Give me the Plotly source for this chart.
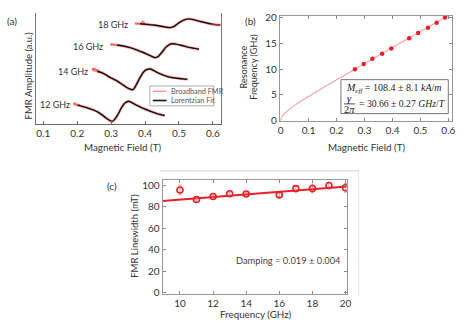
import plotly.graph_objects as go

W, H = 474, 329
FONT = "Lato"
TXT = "#333333"
RED = "#e8202a"

# ---------------- Panel (a): FMR spectra (arbitrary vertical offsets) ----------------
a_labels = ["12 GHz", "14 GHz", "16 GHz", "18 GHz"]
a_label_x = [0.135, 0.187, 0.232, 0.306]
a_label_y = [20.0, 54.0, 80.5, 102.5]

a12_x = [0.189, 0.201, 0.220, 0.240, 0.259, 0.273, 0.288, 0.303, 0.312, 0.322,
         0.332, 0.341, 0.351, 0.361, 0.375, 0.395, 0.414, 0.433, 0.458]
a12_y = [21.3, 19.7, 18.0, 15.7, 13.0, 9.7, 5.7, 3.0, 5.7, 11.3,
         18.0, 22.0, 23.7, 22.3, 19.7, 16.3, 13.7, 11.3, 9.0]

a14_x = [0.244, 0.259, 0.278, 0.298, 0.317, 0.336, 0.351, 0.364, 0.375, 0.385,
         0.395, 0.404, 0.416, 0.429, 0.443, 0.462, 0.482, 0.506, 0.525]
a14_y = [56.3, 54.7, 52.3, 48.0, 44.7, 40.3, 37.0, 35.7, 41.3, 48.0,
         53.7, 56.3, 57.0, 54.7, 52.3, 49.7, 48.0, 47.0, 46.3]

a16_x = [0.298, 0.317, 0.336, 0.356, 0.375, 0.395, 0.414, 0.429, 0.438, 0.450,
         0.462, 0.477, 0.491, 0.511, 0.530, 0.545, 0.559]
a16_y = [82.3, 81.7, 80.7, 79.0, 76.7, 74.0, 71.0, 68.7, 69.7, 74.3,
         79.7, 83.0, 82.7, 81.0, 79.3, 78.3, 77.3]

a18_x = [0.370, 0.385, 0.404, 0.424, 0.443, 0.460, 0.472, 0.484, 0.496, 0.511,
         0.528, 0.545, 0.559, 0.579, 0.598, 0.622]
a18_y = [103.7, 103.7, 103.0, 102.3, 101.3, 100.3, 99.7, 100.7, 103.7, 107.0,
         108.7, 107.7, 106.3, 104.7, 103.3, 102.3]

# noisy raw-data segments (where the fit does not cover the trace)
n12_x = [0.189, 0.191, 0.193, 0.195, 0.197, 0.199, 0.201, 0.203, 0.205, 0.207, 0.209]
n12_y = [21.0, 22.3, 20.2, 21.6, 19.7, 21.0, 20.4, 19.3, 20.6, 19.4, 19.6]
n14_x = [0.244, 0.246, 0.248, 0.250, 0.252, 0.254, 0.256, 0.258, 0.260, 0.262, 0.264, 0.266, 0.268]
n14_y = [56.0, 58.0, 55.3, 58.4, 56.4, 57.5, 54.8, 56.8, 55.5, 56.5, 54.3, 55.4, 54.6]
n16_x = [0.298, 0.300, 0.302, 0.304, 0.306, 0.308, 0.310, 0.312, 0.314, 0.316]
n16_y = [82.0, 83.2, 81.6, 82.9, 81.8, 82.7, 81.3, 82.3, 81.1, 81.9]
n18_x = [0.370, 0.373, 0.376, 0.379, 0.382, 0.385, 0.388, 0.391, 0.393, 0.395,
         0.397, 0.399, 0.402, 0.405, 0.408, 0.411, 0.414]
n18_y = [103.5, 104.3, 103.1, 104.5, 103.3, 104.0, 102.9, 104.8, 107.0, 102.2,
         106.0, 102.8, 104.2, 103.1, 103.7, 102.8, 103.4]
e18_x = [0.596, 0.599, 0.602, 0.605, 0.608, 0.611, 0.614, 0.617, 0.620, 0.622]
e18_y = [103.4, 102.4, 103.6, 102.7, 103.4, 102.0, 102.9, 102.1, 102.8, 102.2]

a_ticks = [0.1, 0.2, 0.3, 0.4, 0.5, 0.6]
a_ticktext = ["0.1", "0.2", "0.3", "0.4", "0.5", "0.6"]

# ---------------- Panel (b): Kittel ----------------
b_field = [0.266, 0.297, 0.328, 0.363, 0.396, 0.460, 0.492, 0.527, 0.558, 0.588]
b_freq = [10, 11, 12, 13, 14, 16, 17, 18, 19, 20]
b_fit_B = [0, 0.002, 0.005, 0.01, 0.02, 0.035, 0.05, 0.075, 0.1, 0.15, 0.2,
           0.25, 0.3, 0.35, 0.4, 0.45, 0.5, 0.55, 0.6]
b_fit_f = [0, 0.5, 0.8, 1.2, 1.7, 2.4, 3.0, 3.9, 4.7, 6.35, 7.95,
           9.5, 11.1, 12.65, 14.2, 15.75, 17.3, 18.85, 20.4]

# ---------------- Panel (c): linewidth ----------------
c_freq = [10, 11, 12, 13, 14, 16, 17, 18, 19, 20]
c_width = [95.6, 86.7, 89.5, 92.0, 91.8, 91.0, 96.8, 97.0, 99.7, 97.6]
c_err = [4.5, 1.5, 1.5, 1.5, 1.5, 1.5, 2.0, 4.0, 3.0, 4.0]
c_fit_f = [8.95, 20.08]
c_fit_w = [85.3, 98.9]

fig = go.Figure()

def add_spectrum(x, y, nx, ny):
    fig.add_trace(go.Scatter(x=x, y=y, mode="lines", xaxis="x", yaxis="y",
                             line=dict(color="rgba(250,80,80,0.55)", width=2.8,
                                       shape="spline", smoothing=0.8),
                             showlegend=False, hoverinfo="skip"))
    fig.add_trace(go.Scatter(x=nx, y=ny, mode="lines", xaxis="x", yaxis="y",
                             line=dict(color="rgba(250,70,70,0.85)", width=0.9),
                             showlegend=False, hoverinfo="skip"))
    fig.add_trace(go.Scatter(x=x[1:], y=y[1:], mode="lines", xaxis="x", yaxis="y",
                             line=dict(color="#111111", width=1.4,
                                       shape="spline", smoothing=0.8),
                             showlegend=False, hoverinfo="skip"))

add_spectrum(a12_x, a12_y, n12_x, n12_y)
add_spectrum(a14_x, a14_y, n14_x, n14_y)
add_spectrum(a16_x, a16_y, n16_x, n16_y)
add_spectrum(a18_x, a18_y, n18_x, n18_y)
fig.add_trace(go.Scatter(x=e18_x, y=e18_y, mode="lines", xaxis="x", yaxis="y",
                         line=dict(color="rgba(250,70,70,0.85)", width=0.9),
                         showlegend=False, hoverinfo="skip"))

# panel b
fig.add_trace(go.Scatter(x=b_fit_B, y=b_fit_f, mode="lines", xaxis="x2", yaxis="y2",
                         line=dict(color="#f3a3a3", width=1.1, shape="spline"),
                         showlegend=False))
fig.add_trace(go.Scatter(x=b_field, y=b_freq, mode="markers", xaxis="x2", yaxis="y2",
                         marker=dict(color=RED, size=4.5), showlegend=False))

# panel c
fig.add_trace(go.Scatter(x=c_fit_f, y=c_fit_w, mode="lines", xaxis="x3", yaxis="y3",
                         line=dict(color=RED, width=2), showlegend=False))
fig.add_trace(go.Scatter(x=c_freq, y=c_width, mode="markers", xaxis="x3", yaxis="y3",
                         error_y=dict(type="data", array=c_err, color="rgba(240,110,110,0.75)",
                                      thickness=1, width=1.5),
                         marker=dict(symbol="circle-open", color=RED, size=6,
                                     line=dict(width=1.6, color=RED)),
                         showlegend=False))

def px(x):
    return x / W

def py(y):
    return 1 - y / H

tickfont = dict(family=FONT, size=10, color=TXT)
common = dict(showgrid=False, zeroline=False, tickfont=tickfont)

layout = dict(
    width=W, height=H, margin=dict(l=0, r=0, t=0, b=0),
    paper_bgcolor="white", plot_bgcolor="white",
    font=dict(family=FONT, color=TXT),
    showlegend=False,
    xaxis=dict(domain=[px(35), px(222)], range=[0.08, 0.623], anchor="y",
               tickvals=a_ticks, ticktext=a_ticktext, ticks="inside", ticklen=3,
               tickcolor="#666", showline=True, linecolor="#666", linewidth=1, **common),
    yaxis=dict(domain=[py(123), py(8)], range=[0, 115], anchor="x",
               showticklabels=False, ticks="", showline=True, linecolor="#777",
               linewidth=1, mirror=True, **common),
    xaxis2=dict(domain=[px(282), px(457)], range=[-0.003, 0.614], anchor="y2",
                tick0=0, dtick=0.1, ticks="inside", ticklen=3, tickcolor="#888",
                showline=True, linecolor="#999", linewidth=1, mirror="ticks", **common),
    yaxis2=dict(domain=[py(120), py(11)], range=[-0.1, 20.35], anchor="x2",
                tick0=0, dtick=5, ticks="inside", ticklen=3, tickcolor="#888",
                showline=True, linecolor="#999", linewidth=1, mirror="ticks", **common),
    xaxis3=dict(domain=[px(163), px(350)], range=[8.95, 20.08], anchor="y3",
                tickvals=[10, 12, 14, 16, 18, 20], ticks="inside", ticklen=3,
                tickcolor="#888", showline=True, linecolor="#999", linewidth=1,
                mirror="ticks", **common),
    yaxis3=dict(domain=[py(297.7), py(180)], range=[-1, 105.3], anchor="x3",
                tick0=0, dtick=20, ticks="inside", ticklen=3, tickcolor="#888",
                showline=True, linecolor="#999", linewidth=1, mirror="ticks", **common),
)
fig.update_layout(**layout)

ann = []
def ptxt(text, x, y, size=10, angle=0, xanchor="center", family=FONT, color=TXT):
    ann.append(dict(text=text, x=px(x), y=py(y), xref="paper", yref="paper",
                    showarrow=False, xanchor=xanchor, yanchor="middle",
                    textangle=angle, font=dict(family=family, size=size, color=color)))

# panel labels
ptxt("(a)", 10, 17, 10)
ptxt("(b)", 252, 16, 10)
ptxt("(c)", 112, 187, 10)
# axis titles
ptxt("Magnetic Field (T)", 122, 146, 9.8)
ptxt("FMR Amplitude (a.u.)", 27, 73, 9.5, angle=-90)
ptxt("Magnetic Field (T)", 370, 146, 9.8)
ptxt("Resonance", 245, 64, 9, angle=-90)
ptxt("Frequency (GHz)", 254.5, 64, 9, angle=-90)
ptxt("Frequency (GHz)", 258, 318.5, 9.8)
ptxt("FMR Linewidth (mT)", 135, 238, 9.5, angle=-90)

# frequency labels on spectra
for t, x, y in zip(a_labels, a_label_x, a_label_y):
    ann.append(dict(text=t, x=x, y=y, xref="x", yref="y", showarrow=False,
                    font=dict(family=FONT, size=9, color=TXT)))

# damping text
ann.append(dict(text="Damping = 0.019 ± 0.004", x=16.55, y=29.5, xref="x3", yref="y3",
                showarrow=False, font=dict(family=FONT, size=9.3, color="#444")))

# legend of panel (a)
ptxt("Broadband FMR", 170, 89, 7.3, xanchor="left", color="#555")
ptxt("Lorentzian Fit", 170, 98.5, 7.3, xanchor="left", color="#555")

# Kittel fit parameters box
SERIF = "Liberation Serif"
ptxt("<i>M</i><sub><i>eff</i></sub> = 108.4 ± 8.1 <i>kA</i>/<i>m</i>", 347.5, 86, 10,
     xanchor="left", family=SERIF, color="#222")
ptxt("<i>γ</i>", 352.5, 96.3, 10.5, family=SERIF, color="#222")
ptxt("2<i>π</i>", 352.5, 107.3, 10.5, family=SERIF, color="#222")
ptxt("= 30.66 ± 0.27 <i>GHz</i>/<i>T</i>", 360.5, 102, 9.7, xanchor="left",
     family=SERIF, color="#222")

shapes = [
    # legend (a)
    dict(type="rect", xref="paper", yref="paper", x0=px(150), x1=px(215), y0=py(104), y1=py(83.5),
         line=dict(color="#999", width=0.8), fillcolor="white", layer="above"),
    dict(type="line", xref="paper", yref="paper", x0=px(153), x1=px(167), y0=py(89), y1=py(89),
         line=dict(color="#f08a8a", width=1.2), layer="above"),
    dict(type="line", xref="paper", yref="paper", x0=px(153), x1=px(167), y0=py(98.5), y1=py(98.5),
         line=dict(color="#111", width=1.6), layer="above"),
    # parameter box (b)
    dict(type="rect", xref="paper", yref="paper", x0=px(344), x1=px(453), y0=py(112), y1=py(77),
         line=dict(color="#777", width=1), fillcolor="white", layer="below"),
    dict(type="line", xref="paper", yref="paper", x0=px(347), x1=px(358.5), y0=py(102), y1=py(102),
         line=dict(color="#222", width=0.8)),
    # faint outer frame around (c)
    dict(type="line", xref="paper", yref="paper", x0=px(160), x1=px(362), y0=py(171), y1=py(171),
         line=dict(color="#cfcfcf", width=1)),
    dict(type="line", xref="paper", yref="paper", x0=px(362), x1=px(362), y0=py(171), y1=py(300),
         line=dict(color="#e2e2e2", width=1)),
]

fig.update_layout(annotations=ann, shapes=shapes)
fig.write_html("out.html")
